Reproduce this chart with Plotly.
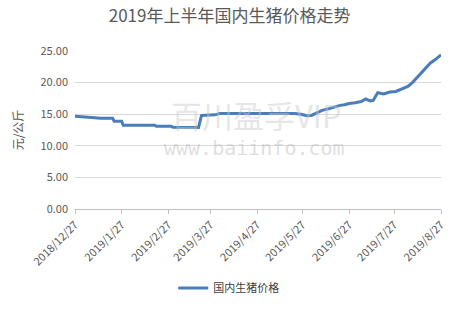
import plotly.graph_objects as go

dates = [
    "2018-12-27", "2019-01-03", "2019-01-09", "2019-01-13", "2019-01-21",
    "2019-01-22", "2019-01-27", "2019-01-28", "2019-02-18", "2019-02-19",
    "2019-03-01", "2019-03-02", "2019-03-19", "2019-03-21", "2019-03-30",
    "2019-04-02", "2019-04-29", "2019-05-22", "2019-05-26", "2019-05-30",
    "2019-06-02", "2019-06-05", "2019-06-09", "2019-06-14", "2019-06-18",
    "2019-06-21", "2019-06-24", "2019-06-27", "2019-07-01", "2019-07-05",
    "2019-07-08", "2019-07-11", "2019-07-13", "2019-07-16", "2019-07-20",
    "2019-07-24", "2019-07-28", "2019-08-01", "2019-08-05", "2019-08-08",
    "2019-08-12", "2019-08-16", "2019-08-20", "2019-08-23", "2019-08-27",
]
prices = [
    14.66, 14.60, 14.45, 14.35, 14.35,
    13.90, 13.90, 13.25, 13.25, 13.10,
    13.10, 12.95, 12.90, 14.80, 14.90,
    15.10, 15.15, 15.10, 15.00, 14.75,
    14.80, 15.10, 15.60, 15.90, 16.20,
    16.40, 16.50, 16.70, 16.80, 17.00,
    17.40, 17.10, 17.20, 18.40, 18.20,
    18.50, 18.60, 19.00, 19.40, 20.00,
    21.00, 22.00, 23.10, 23.60, 24.40,
]

tick_dates = ["2018-12-27", "2019-01-27", "2019-02-27", "2019-03-27", "2019-04-27",
              "2019-05-27", "2019-06-27", "2019-07-27", "2019-08-27"]
tick_labels = ["2018/12/27", "2019/1/27", "2019/2/27", "2019/3/27", "2019/4/27",
               "2019/5/27", "2019/6/27", "2019/7/27", "2019/8/27"]
y_ticks = [0, 5, 10, 15, 20, 25]

title_text = "2019年上半年国内生猪价格走势"
series_name = "国内生猪价格"
y_title = "元/公斤"

FONT = "Noto Sans CJK SC"
GRAY = "#595959"

fig = go.Figure()
fig.add_trace(go.Scatter(
    x=dates, y=prices, mode="lines", name=series_name,
    line=dict(color="#4A7EBB", width=3),
))

fig.update_layout(
    width=462, height=314, autosize=False,
    margin=dict(l=75, r=21, t=51, b=101),
    paper_bgcolor="white", plot_bgcolor="white",
    font=dict(family=FONT, color=GRAY, size=11),
    title=dict(text=title_text, x=0.497, xanchor="center", y=0.95, yanchor="middle",
               font=dict(family=FONT, size=17, color=GRAY)),
    showlegend=True,
    legend=dict(orientation="h", x=0.42, xanchor="center", y=-0.5, yanchor="middle",
                font=dict(family=FONT, size=11, color="#404040"),
                itemwidth=30),
    xaxis=dict(
        type="date", range=["2018-12-27", "2019-08-27"],
        tickvals=tick_dates, ticktext=tick_labels, tickangle=-45,
        showgrid=False, showline=True, linecolor="#bfbfbf", linewidth=1,
        ticks="outside", ticklen=4, tickcolor="#bfbfbf",
        tickfont=dict(family=FONT, size=11, color=GRAY),
        zeroline=False,
    ),
    yaxis=dict(
        range=[0, 25], tickvals=y_ticks, tickformat=".2f",
        showgrid=True, gridcolor="#d9d9d9", gridwidth=1,
        showline=False, zeroline=False, ticks="", ticklabelstandoff=6,
        tickfont=dict(family=FONT, size=11, color=GRAY),
        title=dict(text=y_title, font=dict(family=FONT, size=12, color=GRAY), standoff=14),
    ),
)

fig.add_annotation(text="百川盈孚VIP", xref="paper", yref="paper", x=0.495, y=0.60,
                   showarrow=False, font=dict(family=FONT, size=31, color="rgba(200,200,200,0.45)"))
fig.add_annotation(text="www.baiinfo.com", xref="paper", yref="paper", x=0.49, y=0.385,
                   showarrow=False, font=dict(family="DejaVu Sans Mono", size=20, color="rgba(190,190,190,0.5)"))

fig.write_html("out.html")
